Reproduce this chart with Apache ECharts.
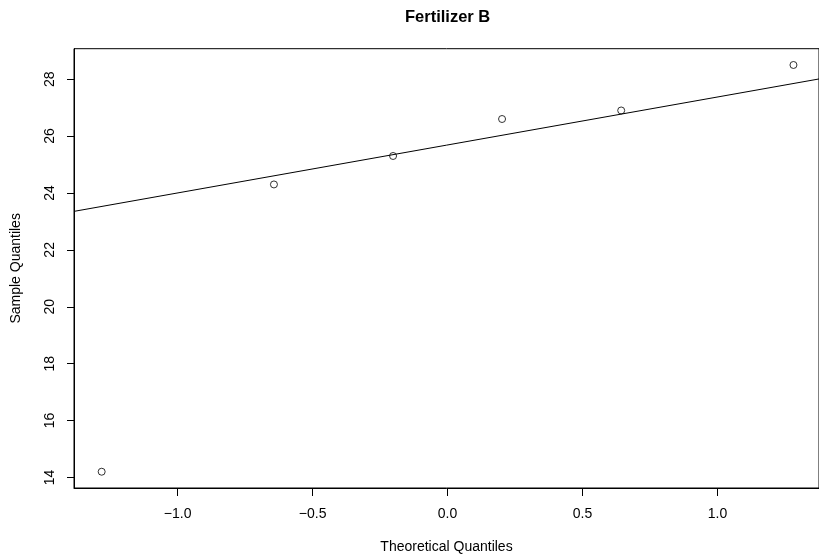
<!DOCTYPE html>
<html>
<head>
<meta charset="utf-8">
<script src="https://cdn.jsdelivr.net/npm/echarts@6/dist/echarts.min.js"></script>
<style>
html,body{margin:0;padding:0;background:#fff;}
#chart{width:819px;height:556px;}
</style>
</head>
<body>
<div id="chart"></div>
<script>
var titleText = "Fertilizer B";
var xAxisTitle = "Theoretical Quantiles";
var yAxisTitle = "Sample Quantiles";
var theoretical = [-1.2816, -0.6433, -0.2019, 0.2019, 0.6433, 1.2816];
var sample = [14.2, 24.3, 25.3, 26.6, 26.9, 28.5];
var xTicks = [-1.0, -0.5, 0.0, 0.5, 1.0];
var yTicks = [14, 16, 18, 20, 22, 24, 26, 28];

var xMin = -1.38412, xMax = 1.3762;
var yMin = 13.628, yMax = 29.072;

// qqline through first and third quartiles
function quantile7(arr, p) {
  var s = arr.slice().sort(function(a,b){return a-b;});
  var h = (s.length - 1) * p;
  var lo = Math.floor(h);
  var hi = Math.min(lo + 1, s.length - 1);
  return s[lo] + (h - lo) * (s[hi] - s[lo]);
}
var q1 = quantile7(sample, 0.25), q3 = quantile7(sample, 0.75);
var z = 0.6744898;
var slope = (q3 - q1) / (2 * z);
var intercept = q1 + z * slope;
var lineData = [[xMin, intercept + slope * xMin], [xMax, intercept + slope * xMax]];

var pts = theoretical.map(function(x, i){ return [x, sample[i]]; });
var font = "Liberation Sans, Arial, Helvetica, sans-serif";
function fmt(v){ return v.toFixed(1).replace('-', '\u2212'); }

var chart = echarts.init(document.getElementById('chart'), null, {renderer: 'canvas'});
chart.setOption({
  animation: false,
  backgroundColor: '#ffffff',
  title: {
    text: titleText,
    left: 400, top: 4,
    textStyle: {fontFamily: font, fontSize: 16.5, fontWeight: 'bold', color: '#000'}
  },
  grid: {
    left: 74, right: 0, top: 48.7, bottom: 68,
    containLabel: false, outerBoundsMode: 'none',
    show: true, borderColor: '#000', borderWidth: 1, backgroundColor: 'transparent'
  },
  xAxis: {
    type: 'value', min: xMin, max: xMax,
    name: xAxisTitle, nameLocation: 'middle', nameGap: 52,
    nameTextStyle: {fontFamily: font, fontSize: 14, color: '#000'},
    splitLine: {show: false},
    axisLine: {show: true, onZero: false, lineStyle: {color: '#000', width: 1}},
    axisTick: {show: true, length: 8, customValues: xTicks, lineStyle: {color: '#000', width: 1}},
    axisLabel: {customValues: xTicks, formatter: fmt, margin: 19,
      fontFamily: font, fontSize: 14, color: '#000'}
  },
  yAxis: {
    type: 'value', min: yMin, max: yMax,
    name: yAxisTitle, nameLocation: 'middle', nameGap: 51,
    nameTextStyle: {fontFamily: font, fontSize: 14, color: '#000'},
    splitLine: {show: false},
    axisLine: {show: true, onZero: false, lineStyle: {color: '#000', width: 1}},
    axisTick: {show: true, length: 7, customValues: yTicks, lineStyle: {color: '#000', width: 1}},
    axisLabel: {customValues: yTicks, rotate: 90, margin: 17,
      fontFamily: font, fontSize: 14, color: '#000'}
  },
  series: [
    {
      type: 'line', data: lineData, symbol: 'none', clip: true,
      lineStyle: {color: '#000', width: 1}, silent: true
    },
    {
      type: 'scatter', data: pts, symbol: 'circle', symbolSize: 7,
      itemStyle: {color: '#ffffff', borderColor: '#000', borderWidth: 1}
    }
  ]
});
</script>
</body>
</html>
